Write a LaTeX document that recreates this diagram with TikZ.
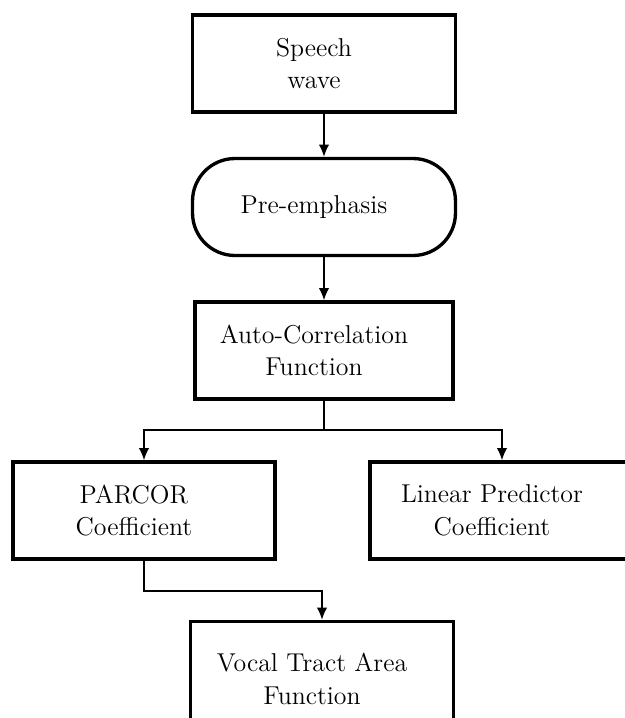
\documentclass[tikz,border=0pt]{standalone}
\usepackage{tikz}
\usetikzlibrary{arrows.meta}

% text in the boxes sits a little left of centre
\newcommand{\padr}[1]{\mbox{#1\hspace{0.4cm}}}

\begin{document}
\begin{tikzpicture}[x=0.02cm,y=-0.02cm,
  block/.style={draw,line width=1.9pt,minimum width=5.26cm,minimum height=1.94cm,
    align=center,inner sep=0pt,font=\fontsize{14.7}{18.6}\selectfont},
  roundblock/.style={block,rounded corners=0.85cm},
  flow/.style={-{Latex[length=7pt,width=6pt]},line width=1pt}]
\clip (0,0) rectangle (625,718);

% Main column
\node[block] (speech) at (324,63.5) {\padr{Speech}\\\padr{wave}};
\node[roundblock] (pre) at (324,207) {\padr{Pre-emphasis}};
\node[block,minimum width=5.16cm] (auto) at (324,350.5) {\padr{Auto-Correlation}\\\padr{Function}};

% Coefficients
\node[block,minimum width=5.24cm] (parcor) at (144,510.5) {\padr{PARCOR}\\\padr{Coefficient}};
\node[block,minimum width=5.28cm] (lpc) at (502,510.5) {\padr{Linear Predictor}\hspace{0.2cm}\\\padr{Coefficient}\hspace{0.2cm}};
\node[block,minimum height=2.3cm] (vocal) at (322,679) {\padr{Vocal Tract Area}\\\padr{Function}};

% Connectors
\draw[flow] (speech) -- (pre);
\draw[flow] (pre) -- (auto);

\coordinate (split) at (324,430);
\draw[line width=1pt] (auto.south) -- (split);
\draw[flow] (split) -| (parcor.north);
\draw[flow] (split) -| (lpc.north);

\coordinate (join) at (144,591);
\draw[flow] (parcor.south) -- (join) -| (vocal.north);
\end{tikzpicture}
\end{document}
